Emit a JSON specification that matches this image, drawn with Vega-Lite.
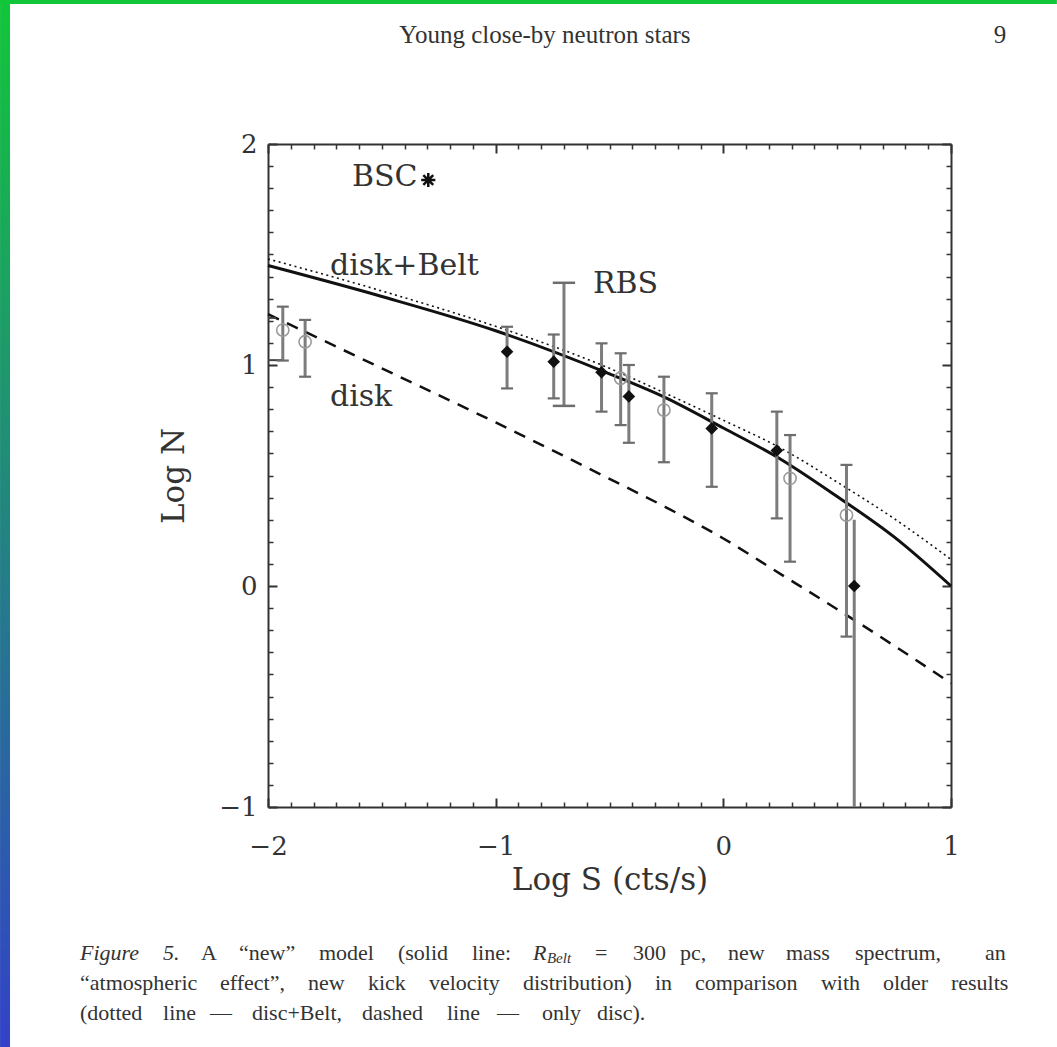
{
  "$schema": "https://vega.github.io/schema/vega-lite/v6.json",
  "width": 683,
  "height": 663,
  "autosize": {"type": "none"},
  "padding": {"left": 268, "top": 144, "right": 106, "bottom": 240},
  "background": "white",
  "config": {
    "view": {"stroke": null},
    "axis": {"grid": false, "domainColor": "#333", "tickColor": "#333", "labelColor": "#333", "titleColor": "#333", "labelFont": "DejaVu Serif", "titleFont": "DejaVu Serif", "titleFontWeight": "normal"}
  },
  "resolve": {"axis": {"x": "independent", "y": "independent"}},
  "datasets": {
    "frame": [
      {"part": "top", "x1": -3.177, "x2": 1.4651, "y1": 2.6516, "y2": 2.6335},
      {"part": "left", "x1": -3.177, "x2": -3.1331, "y1": 2.6516, "y2": -2.086}
    ],
    "curves": [
      {"model": "new", "x": -2.0, "y": 1.45}, {"model": "new", "x": -1.5, "y": 1.31}, {"model": "new", "x": -1.0, "y": 1.155}, {"model": "new", "x": -0.5, "y": 0.96}, {"model": "new", "x": -0.25, "y": 0.85}, {"model": "new", "x": 0.0, "y": 0.715}, {"model": "new", "x": 0.25, "y": 0.575}, {"model": "new", "x": 0.5, "y": 0.405}, {"model": "new", "x": 0.75, "y": 0.222}, {"model": "new", "x": 1.0, "y": 0.0},
      {"model": "old", "x": -2.0, "y": 1.48}, {"model": "old", "x": -1.5, "y": 1.335}, {"model": "old", "x": -1.0, "y": 1.175}, {"model": "old", "x": -0.5, "y": 0.985}, {"model": "old", "x": -0.25, "y": 0.87}, {"model": "old", "x": 0.0, "y": 0.75}, {"model": "old", "x": 0.25, "y": 0.625}, {"model": "old", "x": 0.5, "y": 0.47}, {"model": "old", "x": 0.75, "y": 0.305}, {"model": "old", "x": 1.0, "y": 0.12},
      {"model": "disk", "x": -2.0, "y": 1.23}, {"model": "disk", "x": -1.5, "y": 0.985}, {"model": "disk", "x": -1.0, "y": 0.74}, {"model": "disk", "x": -0.5, "y": 0.485}, {"model": "disk", "x": -0.25, "y": 0.355}, {"model": "disk", "x": 0.0, "y": 0.215}, {"model": "disk", "x": 0.25, "y": 0.055}, {"model": "disk", "x": 0.5, "y": -0.105}, {"model": "disk", "x": 0.75, "y": -0.27}, {"model": "disk", "x": 1.0, "y": -0.44}
    ],
    "points": [
      {"kind": "filled", "x": -0.95, "y": 1.06, "lo": 0.894, "hi": 1.173},
      {"kind": "filled", "x": -0.745, "y": 1.015, "lo": 0.849, "hi": 1.138},
      {"kind": "filled", "x": -0.535, "y": 0.967, "lo": 0.789, "hi": 1.098},
      {"kind": "filled", "x": -0.415, "y": 0.858, "lo": 0.648, "hi": 1.0},
      {"kind": "filled", "x": -0.051, "y": 0.713, "lo": 0.449, "hi": 0.872},
      {"kind": "filled", "x": 0.235, "y": 0.613, "lo": 0.306, "hi": 0.789},
      {"kind": "filled", "x": 0.575, "y": 0.0, "lo": -1.0, "hi": 0.30},
      {"kind": "open", "x": -1.935, "y": 1.158, "lo": 1.02, "hi": 1.264},
      {"kind": "open", "x": -1.837, "y": 1.105, "lo": 0.947, "hi": 1.204},
      {"kind": "open", "x": -0.451, "y": 0.94, "lo": 0.728, "hi": 1.053},
      {"kind": "open", "x": -0.261, "y": 0.796, "lo": 0.56, "hi": 0.947},
      {"kind": "open", "x": 0.293, "y": 0.487, "lo": 0.11, "hi": 0.683},
      {"kind": "open", "x": 0.541, "y": 0.321, "lo": -0.229, "hi": 0.548},
      {"kind": "rbs", "x": -0.70, "lo": 0.815, "hi": 1.372},
      {"kind": "bsc", "x": -1.296, "y": 1.837}
    ],
    "bracket": [
      {"x": -2.0, "x2": -1.965, "y": 1.213},
      {"x": -2.0, "x2": -1.935, "y": 1.022}
    ],
    "labels": [
      {"text": "BSC", "x": -1.631, "y": 1.852},
      {"text": "disk+Belt", "x": -1.728, "y": 1.448},
      {"text": "RBS", "x": -0.573, "y": 1.366},
      {"text": "disk", "x": -1.728, "y": 0.855}
    ],
    "header": [
      {"text": "Young close-by neutron stars", "x": -0.7835, "y": 2.4932},
      {"text": "9", "x": 1.2148, "y": 2.4932}
    ],
    "caption": [
      {"role": "italic", "text": "Figure", "x": -2.8257, "y": -1.6606},
      {"role": "italic", "text": "5.", "x": -2.4611, "y": -1.6606},
      {"role": "roman", "text": "A", "x": -2.2942, "y": -1.6606},
      {"role": "roman", "text": "“new”", "x": -2.1274, "y": -1.6606},
      {"role": "roman", "text": "model", "x": -1.776, "y": -1.6606},
      {"role": "roman", "text": "(solid", "x": -1.4291, "y": -1.6606},
      {"role": "roman", "text": "line:", "x": -1.1041, "y": -1.6606},
      {"role": "italic", "text": "R", "x": -0.8362, "y": -1.6606},
      {"role": "sub", "text": "Belt", "x": -0.7747, "y": -1.6833},
      {"role": "roman", "text": "=", "x": -0.5639, "y": -1.6606},
      {"role": "roman", "text": "300", "x": -0.397, "y": -1.6606},
      {"role": "roman", "text": "pc,", "x": -0.1906, "y": -1.6606},
      {"role": "roman", "text": "new", "x": 0.0202, "y": -1.6606},
      {"role": "roman", "text": "mass", "x": 0.2749, "y": -1.6606},
      {"role": "roman", "text": "spectrum,", "x": 0.578, "y": -1.6606},
      {"role": "roman", "text": "an", "x": 1.1489, "y": -1.6606},
      {"role": "roman", "text": "“atmospheric", "x": -2.8257, "y": -1.7964},
      {"role": "roman", "text": "effect”,", "x": -2.2108, "y": -1.7964},
      {"role": "roman", "text": "new", "x": -1.8243, "y": -1.7964},
      {"role": "roman", "text": "kick", "x": -1.5608, "y": -1.7964},
      {"role": "roman", "text": "velocity", "x": -1.2929, "y": -1.7964},
      {"role": "roman", "text": "distribution)", "x": -0.8801, "y": -1.7964},
      {"role": "roman", "text": "in", "x": -0.3004, "y": -1.7964},
      {"role": "roman", "text": "comparison", "x": -0.1247, "y": -1.7964},
      {"role": "roman", "text": "with", "x": 0.4287, "y": -1.7964},
      {"role": "roman", "text": "older", "x": 0.7009, "y": -1.7964},
      {"role": "roman", "text": "results", "x": 0.9996, "y": -1.7964},
      {"role": "roman", "text": "(dotted", "x": -2.8257, "y": -1.9321},
      {"role": "roman", "text": "line", "x": -2.4611, "y": -1.9321},
      {"role": "roman", "text": "—", "x": -2.2547, "y": -1.9321},
      {"role": "roman", "text": "disc+Belt,", "x": -2.0703, "y": -1.9321},
      {"role": "roman", "text": "dashed", "x": -1.5872, "y": -1.9321},
      {"role": "roman", "text": "line", "x": -1.2139, "y": -1.9321},
      {"role": "roman", "text": "—", "x": -0.9943, "y": -1.9321},
      {"role": "roman", "text": "only", "x": -0.7967, "y": -1.9321},
      {"role": "roman", "text": "disc).", "x": -0.5551, "y": -1.9321}
    ]
  },
  "layer": [
    {
      "data": {"name": "frame"},
      "transform": [{"filter": "datum.part === 'top'"}],
      "mark": {"type": "rect", "color": "#12c63a"},
      "encoding": {
        "x": {"field": "x1", "type": "quantitative", "scale": {"domain": [-2, 1], "nice": false, "zero": false}, "axis": null},
        "x2": {"field": "x2"},
        "y": {"field": "y1", "type": "quantitative", "scale": {"domain": [-1, 2], "nice": false, "zero": false}, "axis": null},
        "y2": {"field": "y2"}
      }
    },
    {
      "data": {"name": "frame"},
      "transform": [{"filter": "datum.part === 'left'"}],
      "mark": {"type": "rect", "color": {"gradient": "linear", "x1": 0, "y1": 0, "x2": 0, "y2": 1, "stops": [{"offset": 0, "color": "#12c63a"}, {"offset": 1, "color": "#3342c8"}]}},
      "encoding": {
        "x": {"field": "x1", "type": "quantitative", "scale": {"domain": [-2, 1], "nice": false, "zero": false}, "axis": null},
        "x2": {"field": "x2"},
        "y": {"field": "y1", "type": "quantitative", "scale": {"domain": [-1, 2], "nice": false, "zero": false}, "axis": null},
        "y2": {"field": "y2"}
      }
    },
    {
      "data": {"name": "curves"},
      "transform": [{"filter": "datum.model === 'new'"}],
      "mark": {"type": "line", "color": "#111", "strokeWidth": 3, "interpolate": "monotone"},
      "encoding": {
        "x": {"field": "x", "type": "quantitative", "scale": {"domain": [-2, 1], "nice": false, "zero": false},
              "axis": {"orient": "bottom", "values": [-2, -1, 0, 1], "format": "d", "tickSize": -9, "tickWidth": 2, "domain": true, "domainWidth": 2, "labelPadding": 35, "labelFontSize": 26, "labelFlush": false, "title": "Log S (cts/s)", "titleFontSize": 31, "titlePadding": 6}},
        "y": {"field": "y", "type": "quantitative", "scale": {"domain": [-1, 2], "nice": false, "zero": false},
              "axis": {"orient": "left", "values": [-1, 0, 1, 2], "format": "d", "tickSize": -9, "tickWidth": 2, "domain": true, "domainWidth": 2, "labelPadding": 20, "labelFontSize": 26, "labelFlush": false, "title": "Log N", "titleFontSize": 31, "titlePadding": 28}}
      }
    },
    {
      "data": {"name": "curves"},
      "transform": [{"filter": "datum.model === 'old'"}],
      "mark": {"type": "line", "color": "#111", "strokeWidth": 1.6, "strokeDash": [2, 3.5], "interpolate": "monotone"},
      "encoding": {
        "x": {"field": "x", "type": "quantitative", "scale": {"domain": [-2, 1], "nice": false, "zero": false},
              "axis": {"orient": "bottom", "values": [-1.9, -1.8, -1.7, -1.6, -1.5, -1.4, -1.3, -1.2, -1.1, -0.9, -0.8, -0.7, -0.6, -0.5, -0.4, -0.3, -0.2, -0.1, 0.1, 0.2, 0.3, 0.4, 0.5, 0.6, 0.7, 0.8, 0.9], "tickSize": -5, "tickWidth": 1.5, "domain": false, "labels": false, "title": null}},
        "y": {"field": "y", "type": "quantitative", "scale": {"domain": [-1, 2], "nice": false, "zero": false},
              "axis": {"orient": "left", "values": [-0.9, -0.8, -0.7, -0.6, -0.5, -0.4, -0.3, -0.2, -0.1, 0.1, 0.2, 0.3, 0.4, 0.5, 0.6, 0.7, 0.8, 0.9, 1.1, 1.2, 1.3, 1.4, 1.5, 1.6, 1.7, 1.8, 1.9], "tickSize": -5, "tickWidth": 1.5, "domain": false, "labels": false, "title": null}}
      }
    },
    {
      "data": {"name": "curves"},
      "transform": [{"filter": "datum.model === 'disk'"}],
      "mark": {"type": "line", "color": "#111", "strokeWidth": 2.5, "strokeDash": [12, 9], "interpolate": "monotone"},
      "encoding": {
        "x": {"field": "x", "type": "quantitative", "scale": {"domain": [-2, 1], "nice": false, "zero": false},
              "axis": {"orient": "top", "values": [-2, -1, 0, 1], "tickSize": -9, "tickWidth": 2, "domain": true, "domainWidth": 2, "labels": false, "title": null}},
        "y": {"field": "y", "type": "quantitative", "scale": {"domain": [-1, 2], "nice": false, "zero": false},
              "axis": {"orient": "right", "values": [-1, 0, 1, 2], "tickSize": -9, "tickWidth": 2, "domain": true, "domainWidth": 2, "labels": false, "title": null}}
      }
    },
    {
      "data": {"name": "bracket"},
      "mark": {"type": "rule", "color": "#444", "strokeWidth": 2},
      "encoding": {
        "x": {"field": "x", "type": "quantitative", "scale": {"domain": [-2, 1], "nice": false, "zero": false}, "axis": null},
        "x2": {"field": "x2"},
        "y": {"field": "y", "type": "quantitative", "scale": {"domain": [-1, 2], "nice": false, "zero": false}, "axis": null}
      }
    },
    {
      "data": {"name": "points"},
      "transform": [{"filter": "isValid(datum.lo)"}],
      "mark": {"type": "rule", "color": "#7d7d7d", "strokeWidth": 3},
      "encoding": {
        "x": {"field": "x", "type": "quantitative", "scale": {"domain": [-2, 1], "nice": false, "zero": false}, "axis": null},
        "y": {"field": "lo", "type": "quantitative", "scale": {"domain": [-1, 2], "nice": false, "zero": false}, "axis": null},
        "y2": {"field": "hi"}
      }
    },
    {
      "data": {"name": "points"},
      "transform": [{"filter": "isValid(datum.lo) && datum.lo > -1 && datum.kind !== 'rbs'"}, {"fold": ["lo", "hi"], "as": ["end", "v"]}],
      "mark": {"type": "point", "shape": "M-1,0L1,0", "filled": false, "stroke": "#6d6d6d", "strokeWidth": 2.2, "size": 144, "opacity": 1},
      "encoding": {
        "x": {"field": "x", "type": "quantitative", "scale": {"domain": [-2, 1], "nice": false, "zero": false}, "axis": null},
        "y": {"field": "v", "type": "quantitative", "scale": {"domain": [-1, 2], "nice": false, "zero": false}, "axis": null}
      }
    },
    {
      "data": {"name": "points"},
      "transform": [{"filter": "datum.kind === 'rbs'"}, {"fold": ["lo", "hi"], "as": ["end", "v"]}],
      "mark": {"type": "point", "shape": "M-1,0L1,0", "filled": false, "stroke": "#6d6d6d", "strokeWidth": 2.5, "size": 500, "opacity": 1},
      "encoding": {
        "x": {"field": "x", "type": "quantitative", "scale": {"domain": [-2, 1], "nice": false, "zero": false}, "axis": null},
        "y": {"field": "v", "type": "quantitative", "scale": {"domain": [-1, 2], "nice": false, "zero": false}, "axis": null}
      }
    },
    {
      "data": {"name": "points"},
      "transform": [{"filter": "datum.kind === 'open'"}],
      "mark": {"type": "point", "shape": "circle", "filled": false, "stroke": "#9a9a9a", "strokeWidth": 1.6, "size": 150, "opacity": 1},
      "encoding": {
        "x": {"field": "x", "type": "quantitative", "scale": {"domain": [-2, 1], "nice": false, "zero": false}, "axis": null},
        "y": {"field": "y", "type": "quantitative", "scale": {"domain": [-1, 2], "nice": false, "zero": false}, "axis": null}
      }
    },
    {
      "data": {"name": "points"},
      "transform": [{"filter": "datum.kind === 'filled'"}],
      "mark": {"type": "point", "shape": "diamond", "filled": true, "color": "#111", "size": 160, "opacity": 1},
      "encoding": {
        "x": {"field": "x", "type": "quantitative", "scale": {"domain": [-2, 1], "nice": false, "zero": false},
              "axis": {"orient": "top", "values": [-1.9, -1.8, -1.7, -1.6, -1.5, -1.4, -1.3, -1.2, -1.1, -0.9, -0.8, -0.7, -0.6, -0.5, -0.4, -0.3, -0.2, -0.1, 0.1, 0.2, 0.3, 0.4, 0.5, 0.6, 0.7, 0.8, 0.9], "tickSize": -5, "tickWidth": 1.5, "domain": false, "labels": false, "title": null}},
        "y": {"field": "y", "type": "quantitative", "scale": {"domain": [-1, 2], "nice": false, "zero": false},
              "axis": {"orient": "right", "values": [-0.9, -0.8, -0.7, -0.6, -0.5, -0.4, -0.3, -0.2, -0.1, 0.1, 0.2, 0.3, 0.4, 0.5, 0.6, 0.7, 0.8, 0.9, 1.1, 1.2, 1.3, 1.4, 1.5, 1.6, 1.7, 1.8, 1.9], "tickSize": -5, "tickWidth": 1.5, "domain": false, "labels": false, "title": null}}
      }
    },
    {
      "data": {"name": "points"},
      "transform": [{"filter": "datum.kind === 'bsc'"}],
      "mark": {"type": "point", "shape": "M-1,0L1,0M0,-1L0,1M-0.7,-0.7L0.7,0.7M-0.7,0.7L0.7,-0.7", "filled": false, "stroke": "#111", "strokeWidth": 2.5, "size": 200, "opacity": 1},
      "encoding": {
        "x": {"field": "x", "type": "quantitative", "scale": {"domain": [-2, 1], "nice": false, "zero": false}, "axis": null},
        "y": {"field": "y", "type": "quantitative", "scale": {"domain": [-1, 2], "nice": false, "zero": false}, "axis": null}
      }
    },
    {
      "data": {"name": "labels"},
      "mark": {"type": "text", "font": "DejaVu Serif", "fontSize": 30, "color": "#333", "align": "left", "baseline": "middle"},
      "encoding": {
        "x": {"field": "x", "type": "quantitative", "scale": {"domain": [-2, 1], "nice": false, "zero": false}, "axis": null},
        "y": {"field": "y", "type": "quantitative", "scale": {"domain": [-1, 2], "nice": false, "zero": false}, "axis": null},
        "text": {"field": "text"}
      }
    },
    {
      "data": {"name": "header"},
      "mark": {"type": "text", "font": "Liberation Serif", "fontSize": 25, "color": "#333", "align": "center", "baseline": "middle"},
      "encoding": {
        "x": {"field": "x", "type": "quantitative", "scale": {"domain": [-2, 1], "nice": false, "zero": false}, "axis": null},
        "y": {"field": "y", "type": "quantitative", "scale": {"domain": [-1, 2], "nice": false, "zero": false}, "axis": null},
        "text": {"field": "text"}
      }
    },
    {
      "data": {"name": "caption"},
      "transform": [{"filter": "datum.role === 'roman'"}],
      "mark": {"type": "text", "font": "Liberation Serif", "fontSize": 22, "color": "#333", "align": "left", "baseline": "middle"},
      "encoding": {
        "x": {"field": "x", "type": "quantitative", "scale": {"domain": [-2, 1], "nice": false, "zero": false}, "axis": null},
        "y": {"field": "y", "type": "quantitative", "scale": {"domain": [-1, 2], "nice": false, "zero": false}, "axis": null},
        "text": {"field": "text"}
      }
    },
    {
      "data": {"name": "caption"},
      "transform": [{"filter": "datum.role === 'italic'"}],
      "mark": {"type": "text", "font": "Liberation Serif", "fontSize": 22, "fontStyle": "italic", "color": "#333", "align": "left", "baseline": "middle"},
      "encoding": {
        "x": {"field": "x", "type": "quantitative", "scale": {"domain": [-2, 1], "nice": false, "zero": false}, "axis": null},
        "y": {"field": "y", "type": "quantitative", "scale": {"domain": [-1, 2], "nice": false, "zero": false}, "axis": null},
        "text": {"field": "text"}
      }
    },
    {
      "data": {"name": "caption"},
      "transform": [{"filter": "datum.role === 'sub'"}],
      "mark": {"type": "text", "font": "Liberation Serif", "fontSize": 15, "fontStyle": "italic", "color": "#333", "align": "left", "baseline": "middle"},
      "encoding": {
        "x": {"field": "x", "type": "quantitative", "scale": {"domain": [-2, 1], "nice": false, "zero": false}, "axis": null},
        "y": {"field": "y", "type": "quantitative", "scale": {"domain": [-1, 2], "nice": false, "zero": false}, "axis": null},
        "text": {"field": "text"}
      }
    }
  ]
}
